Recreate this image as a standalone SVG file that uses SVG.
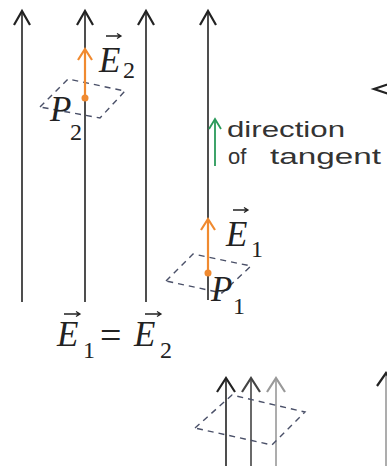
<svg xmlns="http://www.w3.org/2000/svg" width="387" height="466" viewBox="0 0 387 466">
<style>
.fl{stroke:#222;stroke-width:1.6;fill:none}
.ah{stroke:#222;stroke-width:2.2;fill:none;stroke-linejoin:miter}
.dash{stroke:#4a5068;stroke-width:1.4;fill:none;stroke-dasharray:6 5}
.or{stroke:#f08a30;stroke-width:2.2;fill:none}
.gr{stroke:#2a9a5a;stroke-width:1.8;fill:none}
.it{font-family:"Liberation Serif",serif;font-style:italic;font-size:35px;fill:#222}
.sub{font-style:normal;font-size:24px}
.eq{font-style:normal;font-size:38px}
.lab{font-family:"Liberation Sans","Open Sans",sans-serif;font-size:22px;fill:#333}
.va{stroke:#222;stroke-width:1.3;fill:none}
</style>
<g id="connectors">
  <g id="field-lines">
    <line class="fl" x1="22" y1="11" x2="22" y2="302"/>
    <path class="ah" d="M14,25 L22,11 L30,25"/>
    <line class="fl" x1="85" y1="11" x2="85" y2="302"/>
    <path class="ah" d="M77,25 L85,11 L93,25"/>
    <line class="fl" x1="146" y1="11" x2="146" y2="302"/>
    <path class="ah" d="M138,25 L146,11 L154,25"/>
    <line class="fl" x1="208" y1="11" x2="208" y2="300"/>
    <path class="ah" d="M200,25 L208,11 L216,25"/>
  </g>
  <g id="bottom-lines">
    <line class="fl" x1="226" y1="378" x2="226" y2="466"/>
    <path class="ah" d="M217,392 L226,378 L235,392"/>
    <line class="fl" x1="251" y1="378" x2="251" y2="466" style="stroke:#444"/>
    <path class="ah" d="M242,392 L251,378 L260,392" style="stroke:#444"/>
    <line class="fl" x1="276" y1="378" x2="276" y2="466" style="stroke:#999"/>
    <path class="ah" d="M267,392 L276,378 L285,392" style="stroke:#999"/>
  </g>
  <g id="edge-arrows">
    <line class="fl" x1="386" y1="373" x2="386" y2="466" style="stroke:#999"/>
    <path class="ah" d="M377,386 L386,373 L395,386"/>
    <path class="ah" d="M395,82 L374,89 L395,96"/>
  </g>
</g>
<g id="surface-P2">
  <path class="dash" d="M40,107 L68,79 L125,91 L100,118 Z"/>
  <line class="or" x1="85" y1="98" x2="85" y2="50"/>
  <path class="or" d="M78,60 L85,49 L92,60"/>
  <circle cx="85" cy="98" r="3.5" fill="#f08a30"/>
  <text class="it" x="50" y="121">P<tspan class="sub" x="70" y="140">2</tspan></text>
  <path class="va" d="M106,36 L121,36 M117,33.5 L121,36 L117,38.5"/>
  <text class="it" x="99" y="72">E<tspan class="sub" x="123" y="78">2</tspan></text>
</g>
<g id="surface-P1">
  <path class="dash" d="M166,281 L193,254 L251,266 L222,293 Z"/>
  <line class="or" x1="208" y1="273" x2="208" y2="220"/>
  <path class="or" d="M201,230 L208,219 L215,230"/>
  <circle cx="208" cy="273" r="3.5" fill="#f08a30"/>
  <text class="it" x="211" y="301">P<tspan class="sub" x="233" y="314">1</tspan></text>
  <path class="va" d="M233,210 L248,210 M244,207.5 L248,210 L244,212.5"/>
  <text class="it" x="226" y="246">E<tspan class="sub" x="251" y="257">1</tspan></text>
</g>
<g id="tangent">
  <line class="gr" x1="215" y1="119" x2="215" y2="166"/>
  <path class="gr" d="M209,129 L215,119 L221,129"/>
  <text class="lab" x="227" y="137" textLength="118" lengthAdjust="spacingAndGlyphs">direction</text>
  <text class="lab" x="228" y="164">of<tspan x="270" textLength="111" lengthAdjust="spacingAndGlyphs">tangent</tspan></text>
</g>
<g id="equation">
  <path class="va" d="M64,314 L80,314 M76,311.5 L80,314 L76,316.5"/>
  <path class="va" d="M145,314 L161,314 M157,311.5 L161,314 L157,316.5"/>
  <text class="it" x="57" y="346">E<tspan class="sub" x="83" y="358">1</tspan><tspan class="eq" x="100" y="348">=</tspan><tspan x="134" y="346">E</tspan><tspan class="sub" x="160" y="358">2</tspan></text>
</g>
<g id="surface-bottom">
  <path class="dash" d="M195,428 L232,395 L305,412 L272,445 Z"/>
</g>
</svg>
